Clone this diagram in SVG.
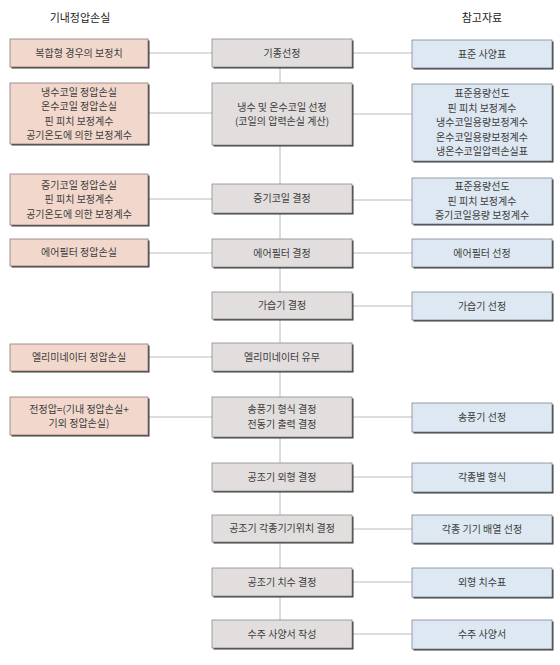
<svg xmlns="http://www.w3.org/2000/svg" width="560" height="665" viewBox="0 0 560 665">
<style>
text{font-family:"Noto Sans CJK KR","Noto Sans",sans-serif;font-size:10px;fill:#3c3c3c;text-anchor:middle}
.h{font-size:11px;fill:#222}
.sh{fill:#3a3a3a}
.l{fill:#f2d8cc;stroke:#8a7a78;stroke-width:0.8}
.c{fill:#e2dede;stroke:#8a8a8c;stroke-width:0.8}
.r{fill:#dde8f2;stroke:#7e8894;stroke-width:0.8}
.cn line{stroke:#b4bac4;stroke-width:1}
</style>
<rect width="560" height="665" fill="#fff"/>
<text class="h" x="80" y="22">기내정압손실</text>
<text class="h" x="482" y="22">참고자료</text>
<g class="cn">
<line x1="280" y1="67" x2="280" y2="620"/>
<line x1="148" y1="53" x2="212" y2="53"/><line x1="352" y1="53" x2="412" y2="53"/>
<line x1="148" y1="113" x2="212" y2="113"/><line x1="352" y1="114" x2="412" y2="114"/>
<line x1="148" y1="199" x2="212" y2="199"/><line x1="352" y1="200" x2="412" y2="200"/>
<line x1="148" y1="253" x2="212" y2="253"/><line x1="352" y1="253" x2="412" y2="253"/>
<line x1="352" y1="306" x2="412" y2="306"/>
<line x1="148" y1="357" x2="212" y2="357"/>
<line x1="148" y1="417" x2="212" y2="417"/><line x1="352" y1="417" x2="412" y2="417"/>
<line x1="352" y1="477" x2="412" y2="477"/>
<line x1="352" y1="529" x2="412" y2="529"/>
<line x1="352" y1="582" x2="412" y2="582"/>
<line x1="352" y1="634" x2="412" y2="634"/>
</g>
<g id="L1"><rect class="sh" x="11.5" y="40.5" width="138" height="28"/><rect class="l" x="10" y="39" width="138" height="28"/><text x="79" y="56.5">복합형 경우의 보정치</text></g>
<g id="L2"><rect class="sh" x="11.5" y="84.5" width="138" height="61"/><rect class="l" x="10" y="83" width="138" height="61"/><text x="79" y="95.5">냉수코일 정압손실</text><text x="79" y="110">온수코일 정압손실</text><text x="79" y="124.5">핀 피치 보정계수</text><text x="79" y="139">공기온도에 의한 보정계수</text></g>
<g id="L3"><rect class="sh" x="11.5" y="175.5" width="138" height="51"/><rect class="l" x="10" y="174" width="138" height="51"/><text x="79" y="188.5">증기코일 정압손실</text><text x="79" y="203">핀 피치 보정계수</text><text x="79" y="217.5">공기온도에 의한 보정계수</text></g>
<g id="L4"><rect class="sh" x="11.5" y="240.5" width="138" height="27"/><rect class="l" x="10" y="239" width="138" height="27"/><text x="79" y="256">에어필터 정압손실</text></g>
<g id="L5"><rect class="sh" x="11.5" y="345.5" width="138" height="27"/><rect class="l" x="10" y="344" width="138" height="27"/><text x="79" y="361">엘리미네이터 정압손실</text></g>
<g id="L6"><rect class="sh" x="11.5" y="398.5" width="138" height="38"/><rect class="l" x="10" y="397" width="138" height="38"/><text x="79" y="412.5">전정압=(기내 정압손실+</text><text x="79" y="427">기외 정압손실)</text></g>
<g id="C1"><rect class="sh" x="213.5" y="40.5" width="140" height="28"/><rect class="c" x="212" y="39" width="140" height="28"/><text x="282" y="56.5">기종선정</text></g>
<g id="C2"><rect class="sh" x="213.5" y="84.5" width="140" height="62"/><rect class="c" x="212" y="83" width="140" height="62"/><text x="282" y="110.5">냉수 및 온수코일 선정</text><text x="282" y="125">(코일의 압력손실 계산)</text></g>
<g id="C3"><rect class="sh" x="213.5" y="185.5" width="140" height="29"/><rect class="c" x="212" y="184" width="140" height="29"/><text x="282" y="202">증기코일 결정</text></g>
<g id="C4"><rect class="sh" x="213.5" y="240.5" width="140" height="28"/><rect class="c" x="212" y="239" width="140" height="28"/><text x="282" y="256.5">에어필터 결정</text></g>
<g id="C5"><rect class="sh" x="213.5" y="293.5" width="140" height="27"/><rect class="c" x="212" y="292" width="140" height="27"/><text x="282" y="309">가습기 결정</text></g>
<g id="C6"><rect class="sh" x="213.5" y="344.5" width="140" height="28"/><rect class="c" x="212" y="343" width="140" height="28"/><text x="282" y="360.5">엘리미네이터 유무</text></g>
<g id="C7"><rect class="sh" x="213.5" y="398.5" width="140" height="40"/><rect class="c" x="212" y="397" width="140" height="40"/><text x="282" y="413">송풍기 형식 결정</text><text x="282" y="427.5">전동기 출력 결정</text></g>
<g id="C8"><rect class="sh" x="213.5" y="464.5" width="140" height="28"/><rect class="c" x="212" y="463" width="140" height="28"/><text x="282" y="480.5">공조기 외형 결정</text></g>
<g id="C9"><rect class="sh" x="213.5" y="516.5" width="140" height="27"/><rect class="c" x="212" y="515" width="140" height="27"/><text x="282" y="532">공조기 각종기기위치 결정</text></g>
<g id="C10"><rect class="sh" x="213.5" y="569.5" width="140" height="28"/><rect class="c" x="212" y="568" width="140" height="28"/><text x="282" y="585.5">공조기 치수 결정</text></g>
<g id="C11"><rect class="sh" x="213.5" y="621.5" width="140" height="28"/><rect class="c" x="212" y="620" width="140" height="28"/><text x="282" y="637.5">수주 사양서 작성</text></g>
<g id="R1"><rect class="sh" x="413.5" y="41.5" width="140" height="28"/><rect class="r" x="412" y="40" width="140" height="28"/><text x="482" y="57.5">표준 사양표</text></g>
<g id="R2"><rect class="sh" x="413.5" y="85.5" width="140" height="77"/><rect class="r" x="412" y="84" width="140" height="77"/><text x="482" y="97">표준용량선도</text><text x="482" y="111.5">핀 피치 보정계수</text><text x="482" y="126">냉수코일용량보정계수</text><text x="482" y="140.5">온수코일용량보정계수</text><text x="482" y="155">냉온수코일압력손실표</text></g>
<g id="R3"><rect class="sh" x="413.5" y="179.5" width="140" height="46"/><rect class="r" x="412" y="178" width="140" height="46"/><text x="482" y="190">표준용량선도</text><text x="482" y="204.5">핀 피치 보정계수</text><text x="482" y="219">증기코일용량 보정계수</text></g>
<g id="R4"><rect class="sh" x="413.5" y="240.5" width="140" height="28"/><rect class="r" x="412" y="239" width="140" height="28"/><text x="482" y="256.5">에어필터 선정</text></g>
<g id="R5"><rect class="sh" x="413.5" y="293.5" width="140" height="28"/><rect class="r" x="412" y="292" width="140" height="28"/><text x="482" y="309.5">가습기 선정</text></g>
<g id="R6"><rect class="sh" x="413.5" y="404.5" width="140" height="29"/><rect class="r" x="412" y="403" width="140" height="29"/><text x="482" y="421">송풍기 선정</text></g>
<g id="R7"><rect class="sh" x="413.5" y="464.5" width="140" height="29"/><rect class="r" x="412" y="463" width="140" height="29"/><text x="482" y="481">각종별 형식</text></g>
<g id="R8"><rect class="sh" x="413.5" y="516.5" width="140" height="28"/><rect class="r" x="412" y="515" width="140" height="28"/><text x="482" y="532.5">각종 기기 배열 선정</text></g>
<g id="R9"><rect class="sh" x="413.5" y="569.5" width="140" height="29"/><rect class="r" x="412" y="568" width="140" height="29"/><text x="482" y="586">외형 치수표</text></g>
<g id="R10"><rect class="sh" x="413.5" y="621.5" width="140" height="29"/><rect class="r" x="412" y="620" width="140" height="29"/><text x="482" y="638">수주 사양서</text></g>
</svg>
